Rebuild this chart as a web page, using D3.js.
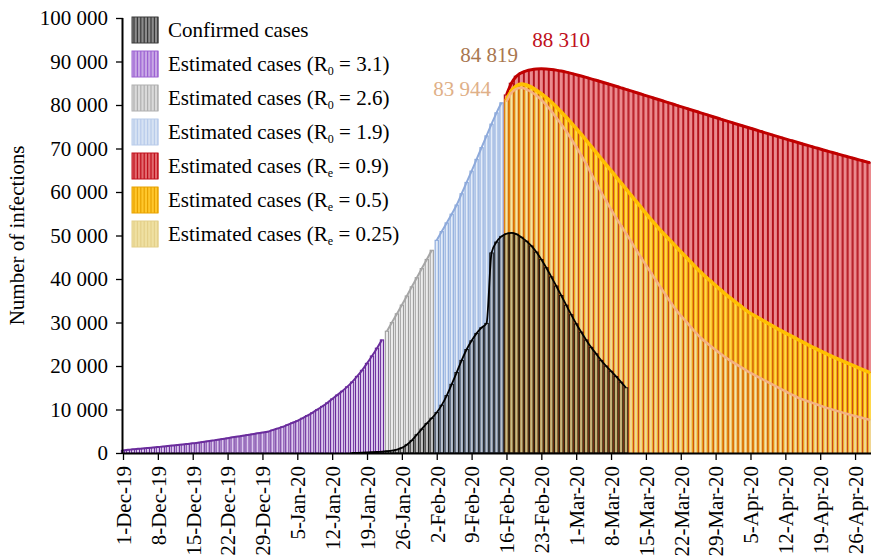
<!DOCTYPE html>
<html>
<head>
<meta charset="utf-8">
<script src="https://cdn.jsdelivr.net/npm/d3@7"></script>
<style>
  body { margin: 0; background: #fff; }
  text { font-family: "Liberation Serif", "Times New Roman", serif; }
</style>
</head>
<body>
<div id="chart"></div>
<script>
// daily values, each series starts at its own date
const purpleStart = "2019-12-01";
const purpleVals = [600, 720, 850, 950, 1050, 1150, 1260, 1370, 1480, 1600,
  1720, 1840, 1960, 2090, 2220, 2350, 2520, 2690, 2870, 3050,
  3230, 3410, 3600, 3780, 3960, 4140, 4330, 4520, 4710, 4900,
  5250, 5620, 6000, 6450, 6920, 7400, 7980, 8600, 9240, 9950,
  10700, 11500, 12400, 13300, 14200, 15200, 16300, 17600, 19000, 20600,
  22300, 24100, 26000];

const grayStart = "2020-01-23";
const grayVals = [28000, 30000, 32000, 34000, 36100, 38200, 40300, 42400, 44500, 46600];

const blueStart = "2020-02-02";
const blueVals = [48900, 50900, 52900, 54900, 57000, 59600, 62200, 64800, 67500, 70200,
  72900, 75600, 78200, 80500];

const reStart = "2020-02-16";
const redVals = [82300, 85000, 86600, 87400, 87850, 88100, 88250, 88310, 88280, 88180,
  88020, 87800, 87550, 87270, 86970, 86660, 86340, 86010, 85680, 85340,
  85000, 84650, 84300, 83950, 83600, 83240, 82880, 82520, 82160, 81800,
  81440, 81080, 80720, 80360, 80000, 79640, 79280, 78920, 78560, 78200,
  77840, 77480, 77120, 76760, 76400, 76050, 75700, 75350, 75000, 74650,
  74300, 73950, 73600, 73250, 72900, 72560, 72220, 71880, 71540, 71200,
  70870, 70540, 70210, 69880, 69550, 69230, 68910, 68590, 68270, 67950,
  67640, 67330, 67020, 66710];

const yellowVals = [81300, 83300, 84400, 84819, 84600, 84100, 83400, 82600, 81700, 80700,
  79600, 78400, 77200, 75900, 74600, 73300, 71900, 70500, 69100, 67700,
  66300, 64900, 63500, 62100, 60700, 59300, 57900, 56500, 55100, 53700,
  52400, 51100, 49900, 48700, 47500, 46300, 45100, 43900, 42700, 41600,
  40500, 39500, 38500, 37500, 36500, 35600, 34700, 33800, 32900, 32100,
  31450, 30800, 30150, 29500, 28850, 28200, 27600, 27000, 26400, 25800,
  25200, 24600, 24050, 23500, 22950, 22400, 21900, 21400, 20900, 20400,
  19900, 19400, 18950, 18500];

const paleVals = [80800, 82800, 83700, 83944, 83600, 83000, 82200, 81200, 80000, 78600,
  77100, 75600, 74000, 72200, 70400, 68500, 66500, 64300, 62100, 60000,
  58000, 56000, 54100, 52300, 50500, 48700, 46800, 45000, 43200, 41500,
  39700, 38000, 36300, 34600, 33000, 31600, 30300, 29000, 27700, 26500,
  25500, 24600, 23700, 22800, 22000, 21200, 20500, 19800, 19100, 18400,
  17800, 17200, 16600, 16000, 15400, 14800, 14200, 13600, 13050, 12500,
  12100, 11700, 11300, 10900, 10500, 10150, 9800, 9450, 9100, 8800,
  8500, 8200, 7900, 7600];

const confirmedStart = "2020-01-16";
const confirmedVals = [30, 50, 80, 120, 170, 230, 320, 430, 570, 800,
  1200, 1900, 2900, 4200, 5500, 6800, 8000, 9300, 11000, 13200,
  15800, 18500, 21300, 23800, 25800, 27500, 28800, 29800, 46000, 48500,
  49800, 50400, 50600, 50300, 49600, 48700, 47600, 46200, 44500, 42600,
  40500, 38400, 36200, 34000, 31800, 29700, 27800, 26000, 24300, 22800,
  21300, 20000, 18800, 17600, 16300, 15000];

const legendLabels = ["Confirmed cases", "Estimated cases (R", "Estimated cases (R",
  "Estimated cases (R", "Estimated cases (R", "Estimated cases (R", "Estimated cases (R"];
const legendSubs = [null, "0", "0", "0", "e", "e", "e"];
const legendTails = ["", " = 3.1)", " = 2.6)", " = 1.9)", " = 0.9)", " = 0.5)", " = 0.25)"];

const peakLabels = ["88 310", "84 819", "83 944"];

const width = 871, height = 560;
const margin = {top: 18, left: 123, bottom: 107};

const svg = d3.select("#chart").append("svg")
    .attr("width", width)
    .attr("height", height);

const parse = d3.utcParse("%Y-%m-%d");
const t0 = parse("2019-12-01"), t1 = parse("2020-05-02");

const x = d3.scaleUtc()
    .domain([t0, t1])
    .range([margin.left, margin.left + 153 * 4.98]);

const y = d3.scaleLinear()
    .domain([0, 100000])
    .range([height - margin.bottom, margin.top]);

function series(start, vals) {
    let s = parse(start);
    return vals.map((v, i) => ({date: d3.utcDay.offset(s, i), value: v}));
}

const plot = svg.append("g");

function drawSeries(data, st) {
    plot.append("g")
        .selectAll("rect")
        .data(data)
        .enter()
        .append("rect")
        .attr("x", d => x(d.date) - st.w / 2)
        .attr("width", st.w)
        .attr("y", d => y(d.value))
        .attr("height", d => y(0) - y(d.value))
        .attr("fill", st.fill)
        .attr("stroke", st.stroke)
        .attr("stroke-width", st.sw);

    let line = d3.line()
        .x(d => x(d.date))
        .y(d => y(d.value))
        .curve(d3.curveMonotoneX);

    plot.append("path")
        .datum(data)
        .attr("d", line)
        .attr("fill", "none")
        .attr("stroke", st.line)
        .attr("stroke-width", st.lw)
        .attr("stroke-linejoin", "round");
}

drawSeries(series(purpleStart, purpleVals), {w: 3.2, fill: "#dcc8ee", stroke: "#6a2c9c", sw: 1.1, line: "#6a2c9c", lw: 2});
drawSeries(series(grayStart, grayVals), {w: 3.2, fill: "#ececec", stroke: "#9e9e9e", sw: 1.1, line: "#a6a6a6", lw: 2});
drawSeries(series(blueStart, blueVals), {w: 3.2, fill: "#e4ecf8", stroke: "#86a6da", sw: 1.1, line: "#8eaadb", lw: 2});
drawSeries(series(reStart, redVals), {w: 4.2, fill: "#eb8a8e", stroke: "#b3121b", sw: 1.2, line: "#c00000", lw: 3});
drawSeries(series(reStart, yellowVals), {w: 3.2, fill: "#ffd84a", stroke: "#f0a500", sw: 1.1, line: "#ffc000", lw: 3.5});
drawSeries(series(reStart, paleVals), {w: 2.0, fill: "#f6e7a6", stroke: "#e8c27a", sw: 0.9, line: "#f4b183", lw: 2.5});
drawSeries(series(confirmedStart, confirmedVals), {w: 3.6, fill: "rgba(0,0,0,0.18)", stroke: "#111", sw: 0.9, line: "#000", lw: 1.8});

// axes
const spaceFmt = d3.formatLocale({decimal: ".", thousands: " ", grouping: [3], currency: ["", ""]}).format(",");

const yAxis = svg.append("g")
    .attr("transform", "translate(" + margin.left + ",0)")
    .call(d3.axisLeft(y).tickValues(d3.range(0, 100001, 10000)).tickFormat(spaceFmt).tickSize(7).tickPadding(8));

const xTicks = d3.utcDay.range(t0, parse("2020-04-30"), 7);
const xAxis = svg.append("g")
    .attr("transform", "translate(0," + y(0) + ")")
    .call(d3.axisBottom(x).tickValues(xTicks).tickFormat(d3.utcFormat("%-d-%b-%y")).tickSize(7).tickPadding(6));

xAxis.select(".domain").attr("d", "M" + margin.left + ",0.5H" + width);
yAxis.select(".domain").attr("d", "M-0.5," + y(100000) + "V" + y(0));

svg.selectAll(".tick line").attr("stroke", "#000").attr("stroke-width", 1.3);
svg.selectAll(".domain").attr("stroke", "#000").attr("stroke-width", 2);

yAxis.selectAll("text")
    .style("font-family", "Liberation Serif")
    .style("font-size", "21px")
    .attr("fill", "#000");

xAxis.selectAll("text")
    .style("font-family", "Liberation Serif")
    .style("font-size", "21px")
    .attr("fill", "#000")
    .attr("text-anchor", "end")
    .attr("transform", "rotate(-90)")
    .attr("x", -13)
    .attr("y", 0)
    .attr("dy", "0.35em");

svg.append("text")
    .attr("transform", "translate(24," + ((y(0) + y(100000)) / 2) + ") rotate(-90)")
    .attr("text-anchor", "middle")
    .style("font-size", "21px")
    .text("Number of infections");

// peak labels
const peakColors = ["#c0101c", "#a9774f", "#dfb088"];
const peakPos = [[561, 47], [489, 62], [462, 96]];
svg.selectAll(".peak")
    .data(peakLabels)
    .enter()
    .append("text")
    .attr("class", "peak")
    .attr("x", (d, i) => peakPos[i][0])
    .attr("y", (d, i) => peakPos[i][1])
    .attr("text-anchor", "middle")
    .attr("fill", (d, i) => peakColors[i])
    .style("font-size", "21px")
    .text(d => d);

// legend
const swatchFill = ["#8c8c8c", "#c9a8e6", "#dadada", "#d6e2f3", "#e26a6f", "#ffc72c", "#efe0a2"];
const swatchLine = ["#3a3a3a", "#9c62d2", "#b0b0b0", "#b8cbea", "#c0101c", "#e8a200", "#e4d08a"];

const legend = svg.append("g").attr("transform", "translate(132,17)");
legendLabels.forEach(function (lab, i) {
    let g = legend.append("g").attr("transform", "translate(0," + (i * 34) + ")");
    g.append("rect")
        .attr("width", 26).attr("height", 26)
        .attr("fill", swatchFill[i])
        .attr("stroke", swatchLine[i]).attr("stroke-width", 1);
    d3.range(2, 26, 3.4).forEach(function (lx) {
        g.append("line")
            .attr("x1", lx).attr("x2", lx)
            .attr("y1", 0).attr("y2", 26)
            .attr("stroke", swatchLine[i]).attr("stroke-width", 1.2);
    });
    let t = g.append("text")
        .attr("x", 36).attr("y", 20)
        .style("font-size", "21px")
        .text(lab);
    if (legendSubs[i]) {
        t.append("tspan").attr("dy", 4).style("font-size", "12px").text(legendSubs[i]);
        t.append("tspan").attr("dy", -4).text(legendTails[i]);
    }
});
</script>
</body>
</html>
